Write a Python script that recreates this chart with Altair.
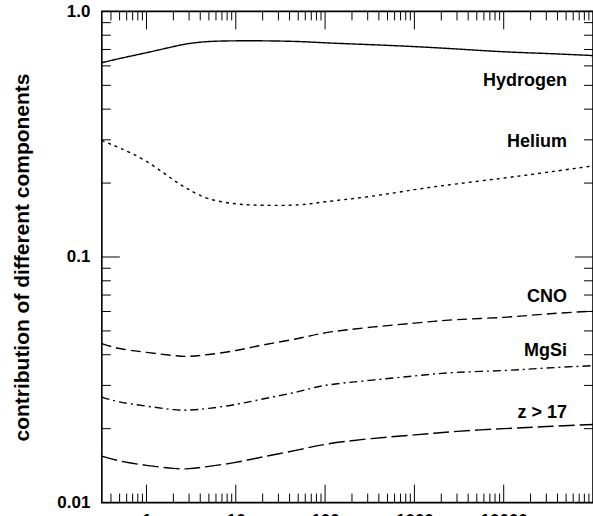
import altair as alt
import pandas as pd

# ---- data ----
energy = [0.316, 0.5, 1, 2, 3, 5, 10, 20, 50, 100, 300, 1000, 3000, 10000, 30000, 100000]
hydrogen = [0.618, 0.643, 0.679, 0.719, 0.740, 0.754, 0.759, 0.759, 0.754, 0.745, 0.733, 0.719, 0.703, 0.685, 0.674, 0.661]
helium = [0.298, 0.278, 0.245, 0.206, 0.188, 0.1726, 0.1647, 0.1624, 0.163, 0.1678, 0.1759, 0.188, 0.1986, 0.2096, 0.221, 0.235]
cno = [0.0444, 0.0424, 0.0409, 0.0397, 0.0394, 0.0401, 0.0416, 0.0438, 0.0466, 0.0491, 0.0516, 0.0538, 0.0556, 0.0568, 0.0586, 0.0602]
mgsi = [0.0269, 0.0257, 0.0247, 0.0239, 0.0238, 0.0242, 0.0251, 0.0264, 0.0283, 0.0300, 0.0314, 0.0328, 0.0339, 0.0345, 0.0353, 0.0361]
z17 = [0.01546, 0.01479, 0.01418, 0.01378, 0.01375, 0.01405, 0.01458, 0.01535, 0.01639, 0.01726, 0.01816, 0.01886, 0.0195, 0.0200, 0.0204, 0.0208]

components = ["Hydrogen", "Helium", "CNO", "MgSi", "z > 17"]
series = [hydrogen, helium, cno, mgsi, z17]

label_x = [51000, 51000, 51000, 51000, 51000]
label_y = [0.4955, 0.280, 0.0656, 0.0396, 0.02216]

x_major = [1, 10, 100, 1000, 10000]
x_minor = [m * 10 ** e for e in range(-1, 5) for m in range(2, 10) if m * 10 ** e > 0.32]
y_major = [0.01, 0.1, 1.0]
y_minor = [m * 10 ** e for e in (-2, -1) for m in range(2, 10)]

# ---- layout ----
W, H = 492, 492
FONT = "Liberation Sans, Arial, Helvetica, sans-serif"
MAJ, MIN = 18, 9

rows = []
for comp, vals in zip(components, series):
    for e, v in zip(energy, vals):
        rows.append({"E": e, "frac": v, "comp": comp})
df = pd.DataFrame(rows)

xscale = alt.Scale(type="log", domain=[10 ** -0.5, 1e5], nice=False)
yscale = alt.Scale(type="log", domain=[0.01, 1.0], nice=False)

xaxis = alt.Axis(values=x_major, format="d", ticks=False, domain=False, grid=False,
                 labelFont=FONT, labelFontSize=17, labelFontWeight="bold",
                 labelColor="black", labelPadding=10, title=None)
yaxis = alt.Axis(values=y_major, ticks=False, domain=False, grid=False,
                 labelExpr="datum.value >= 1 ? '1.0' : (datum.value >= 0.1 ? '0.1' : '0.01')",
                 labelFont=FONT, labelFontSize=17, labelFontWeight="bold",
                 labelColor="black", labelPadding=12, labelBaseline="middle",
                 title="contribution of different components",
                 titleFont=FONT, titleFontSize=21, titleFontWeight="bold",
                 titleColor="black", titleAngle=270, titleX=-73, titleY=246,
                 titleAlign="center", titleBaseline="alphabetic")

dashes = [[1, 0], [3, 4], [10, 5], [8, 4, 2, 4], [16, 5]]

lines = alt.Chart(df).mark_line(color="black", strokeWidth=1.4, interpolate="natural", clip=True).encode(
    x=alt.X("E:Q", scale=xscale, axis=xaxis),
    y=alt.Y("frac:Q", scale=yscale, axis=yaxis),
    strokeDash=alt.StrokeDash("comp:N", scale=alt.Scale(domain=components, range=dashes), legend=None),
    detail="comp:N",
)

lab_df = pd.DataFrame({"E": label_x, "frac": label_y, "text": components})
labels = alt.Chart(lab_df).mark_text(align="right", baseline="alphabetic", font=FONT,
                                     fontSize=18, fontWeight="bold", color="black").encode(
    x=alt.X("E:Q", scale=xscale, axis=xaxis),
    y=alt.Y("frac:Q", scale=yscale, axis=yaxis),
    text="text:N",
)


def xticks(vals, length):
    d = pd.DataFrame({"E": vals})
    bot = alt.Chart(d).mark_rule(color="black", strokeWidth=1).encode(
        x=alt.X("E:Q", scale=xscale, axis=xaxis), y=alt.value(H), y2=alt.value(H - length))
    top = alt.Chart(d).mark_rule(color="black", strokeWidth=1).encode(
        x=alt.X("E:Q", scale=xscale, axis=xaxis), y=alt.value(0), y2=alt.value(length))
    return [bot, top]


def yticks(vals, length):
    d = pd.DataFrame({"frac": vals})
    left = alt.Chart(d).mark_rule(color="black", strokeWidth=1).encode(
        y=alt.Y("frac:Q", scale=yscale, axis=yaxis), x=alt.value(0), x2=alt.value(length))
    right = alt.Chart(d).mark_rule(color="black", strokeWidth=1).encode(
        y=alt.Y("frac:Q", scale=yscale, axis=yaxis), x=alt.value(W), x2=alt.value(W - length))
    return [left, right]


layers = [lines, labels] + xticks(x_major, MAJ) + xticks(x_minor, MIN) + yticks(y_major, MAJ) + yticks(y_minor, MIN)

chart = alt.layer(*layers).properties(
    width=W, height=H,
    padding={"left": 102, "top": 11, "right": 0, "bottom": 13},
    autosize=alt.AutoSizeParams(type="none"),
    background="white",
).configure_view(stroke="black", strokeWidth=1.6)

chart.save("out.html", embed_options={"renderer": "svg", "actions": False})
